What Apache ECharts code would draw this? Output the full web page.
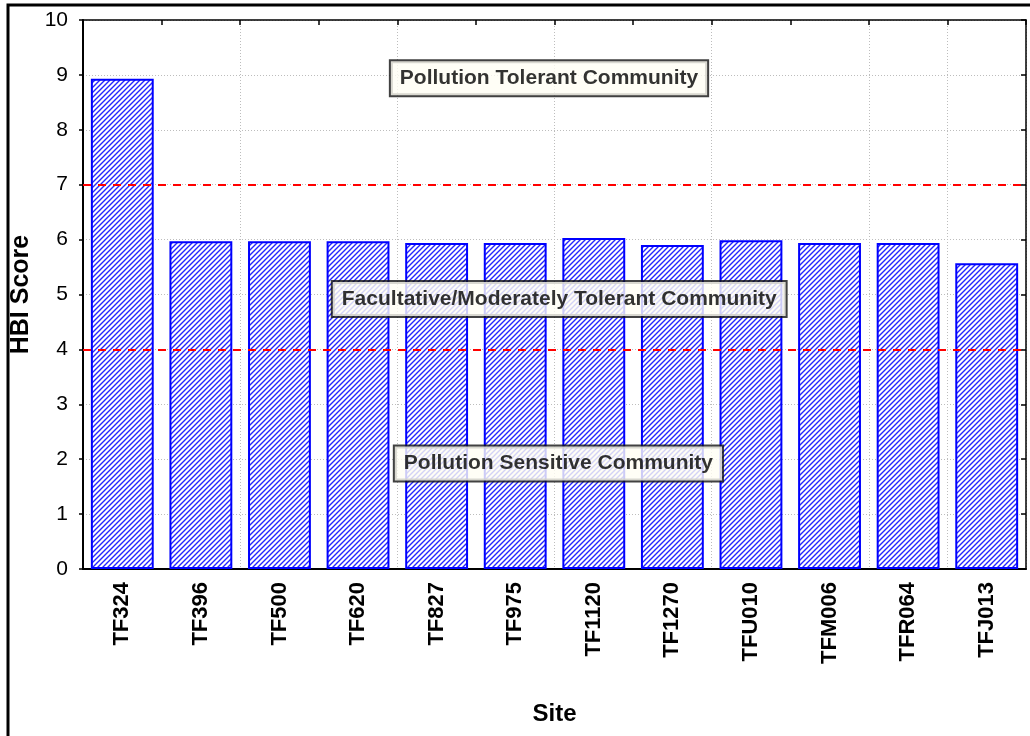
<!DOCTYPE html>
<html>
<head>
<meta charset="utf-8">
<title>HBI Score by Site</title>
<script src="https://cdn.jsdelivr.net/npm/echarts@6/dist/echarts.min.js"></script>
<style>
  html, body { margin: 0; padding: 0; background: #ffffff; }
  #chart { width: 1030px; height: 736px; }
</style>
</head>
<body>
<div id="chart"></div>
<script>
// Sites along the x axis
const sites = ['TF324', 'TF396', 'TF500', 'TF620', 'TF827', 'TF975',
               'TF1120', 'TF1270', 'TFU010', 'TFM006', 'TFR064', 'TFJ013'];

// Hilsenhoff Biotic Index score per site
const hbiScores = [8.93, 5.97, 5.97, 5.97, 5.94, 5.94, 6.03, 5.90, 5.99, 5.94, 5.94, 5.57];

// Tolerance class boundaries (HBI score)
const thresholds = [7, 4];

// Community class captions and where they sit (x in category units, y in HBI score)
const zoneLabels = ['Pollution Tolerant Community',
                    'Facultative/Moderately Tolerant Community',
                    'Pollution Sensitive Community'];
const zoneLabelX = [5.93, 6.06, 6.05];
const zoneLabelY = [8.94, 4.92, 1.92];

// y axis tick values
const yTicks = [0, 1, 2, 3, 4, 5, 6, 7, 8, 9, 10];

// Diagonal hatch fill used for the bars
function makeHatch() {
  const size = 5;
  const c = document.createElement('canvas');
  c.width = size; c.height = size;
  const ctx = c.getContext('2d');
  ctx.fillStyle = '#ffffff';
  ctx.fillRect(0, 0, size, size);
  ctx.strokeStyle = '#2424ff';
  ctx.lineWidth = 1.4;
  ctx.beginPath();
  ctx.moveTo(-1, size + 1); ctx.lineTo(size + 1, -1);
  ctx.moveTo(-1, 1); ctx.lineTo(1, -1);
  ctx.moveTo(size - 1, size + 1); ctx.lineTo(size + 1, size - 1);
  ctx.stroke();
  return c;
}

const chart = echarts.init(document.getElementById('chart'), null, { renderer: 'canvas' });
const font = 'Arial, "Liberation Sans", sans-serif';

chart.setOption({
  backgroundColor: '#ffffff',
  animation: false,
  graphic: [{
    type: 'rect',
    shape: { x: 8, y: 5, width: 1040, height: 760 },
    style: { fill: 'none', stroke: '#000000', lineWidth: 3 },
    silent: true,
    z: 100
  }],
  grid: { left: 83, right: 4, top: 20, bottom: 167, containLabel: false, outerBoundsMode: 'none' },
  xAxis: [{
    type: 'category',
    data: sites,
    position: 'bottom',
    name: 'Site',
    nameLocation: 'middle',
    nameGap: 133,
    nameTextStyle: { fontFamily: font, fontSize: 24, fontWeight: 'bold', color: '#000' },
    axisLine: { show: true, lineStyle: { color: '#000', width: 2 } },
    axisTick: { show: false },
    axisLabel: {
      rotate: 90, margin: 13, interval: 0,
      fontFamily: font, fontSize: 22, fontWeight: 'bold', color: '#000'
    },
    splitLine: {
      show: true, interval: 1,
      lineStyle: { color: '#bdbdbd', width: 1, type: [1, 2] }
    }
  }, {
    // frame along the top edge; also carries the caption positions
    type: 'value',
    position: 'top',
    min: 0, max: 12, interval: 1,
    axisLine: { show: true, onZero: false, lineStyle: { color: '#000', width: 1.5 } },
    axisTick: { show: true, inside: true, length: 5, lineStyle: { color: '#000', width: 1.5 } },
    axisLabel: { show: false },
    splitLine: { show: false }
  }],
  yAxis: [{
    type: 'value',
    min: yTicks[0], max: yTicks[yTicks.length - 1], interval: 1,
    name: 'HBI Score',
    nameLocation: 'middle',
    nameRotate: 90,
    nameGap: 42,
    nameTextStyle: { fontFamily: font, fontSize: 25, fontWeight: 'bold', color: '#000' },
    axisLine: { show: true, lineStyle: { color: '#000', width: 2 } },
    axisTick: { show: true, length: 4, lineStyle: { color: '#000', width: 1.5 } },
    axisLabel: { margin: 15, fontFamily: font, fontSize: 21, color: '#000' },
    splitLine: { show: true, lineStyle: { color: '#bdbdbd', width: 1, type: [1, 2] } }
  }, {
    type: 'value',
    position: 'right',
    min: yTicks[0], max: yTicks[yTicks.length - 1], interval: 1,
    axisLine: { show: true, onZero: false, lineStyle: { color: '#000', width: 1.5 } },
    axisTick: { show: true, inside: true, length: 5, lineStyle: { color: '#000', width: 1.5 } },
    axisLabel: { show: false },
    splitLine: { show: false }
  }],
  series: [{
    type: 'bar',
    name: 'HBI Score',
    data: hbiScores,
    xAxisIndex: 0,
    yAxisIndex: 0,
    barCategoryGap: '20%',
    itemStyle: {
      color: { image: makeHatch(), repeat: 'repeat' },
      borderColor: '#0000ff',
      borderWidth: 2
    },
    markLine: {
      silent: true,
      symbol: 'none',
      label: { show: false },
      lineStyle: { color: '#ff0000', width: 2, type: [8, 7] },
      data: thresholds.map(v => ({ yAxis: v }))
    },
    z: 2
  }, {
    type: 'scatter',
    name: 'zones',
    xAxisIndex: 1,
    yAxisIndex: 0,
    symbolSize: 0,
    silent: true,
    z: 10,
    data: zoneLabels.map((t, i) => ({ name: t, value: [zoneLabelX[i], zoneLabelY[i]] })),
    label: {
      show: true,
      position: 'inside',
      formatter: p => p.name,
      fontFamily: font,
      fontSize: 21,
      fontWeight: 'bold',
      color: '#000',
      backgroundColor: '#fffef4',
      borderColor: '#111',
      borderWidth: 2,
      padding: [7, 9, 6, 9]
    }
  }]
});
</script>
</body>
</html>
